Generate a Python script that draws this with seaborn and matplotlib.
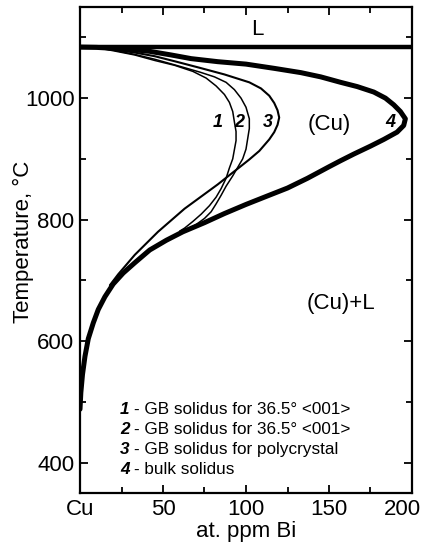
import numpy as np
import pandas as pd
import matplotlib
matplotlib.use("Agg")
import matplotlib.pyplot as plt
import matplotlib.transforms as mtransforms
import seaborn as sns
from matplotlib.ticker import MultipleLocator

# ---- data ----
liquidus_T = 1084

c4_x = [0, 10, 20, 31, 42, 55, 67, 83, 100, 117, 133, 145, 157, 167, 177, 184, 189, 193, 196,
        195, 191, 183, 175, 165, 157, 150, 137, 125, 112, 100, 87, 75, 62, 52, 42, 33, 26, 20,
        15, 11, 8, 5, 3, 1.5, 0.5, 0]
c4_T = [1084, 1083.5, 1082, 1080, 1077, 1071, 1065, 1060, 1056, 1049, 1042, 1035, 1026, 1019, 1010, 1000, 989, 978, 966,
        955, 944, 932, 921, 908, 897, 887, 868, 852, 838, 825, 810, 795, 780, 766, 750, 729, 712, 694,
        673, 652, 630, 604, 575, 545, 515, 488]

c3_x = [0, 10, 20, 33, 45, 58, 72, 87, 102, 109, 114, 117, 119, 120, 119, 117, 114, 108, 102,
        96, 89, 83, 73, 63, 55, 47, 40, 33, 28, 23, 18]
c3_T = [1084, 1083, 1080, 1075, 1069, 1060, 1050, 1039, 1026, 1016, 1004, 992, 980, 968, 956, 944, 932, 913, 899,
        886, 871, 858, 838, 818, 799, 780, 761, 742, 726, 710, 692]

c2_x = [0, 10, 20, 33, 45, 58, 72, 81, 88, 93, 97, 100, 102, 102, 101, 100, 98, 95, 92, 88, 85,
        82, 79, 75, 70, 64]
c2_T = [1084, 1083, 1079, 1072, 1064, 1054, 1043, 1035, 1026, 1014, 1000, 985, 966, 950, 933, 916, 900, 886, 872, 855, 840,
        826, 813, 802, 792, 782]

c1_x = [0, 10, 20, 33, 45, 57, 68, 76, 82, 87, 90, 92, 93, 94, 94, 93, 92, 90, 88, 85, 82, 78,
        73, 68, 63, 60]
c1_T = [1084, 1083, 1078, 1071, 1062, 1054, 1044, 1033, 1020, 1006, 993, 978, 961, 945, 930, 915, 900, 885, 868, 851, 837, 823,
        809, 797, 786, 781]

legend_nums = ["1", "2", "3", "4"]
legend_texts = ["- GB solidus for 36.5° <001>",
                "- GB solidus for 36.5° <001>",
                "- GB solidus for polycrystal",
                "- bulk solidus"]
legend_T = [488, 455, 422, 388]

curve_labels = ["1", "2", "3", "4"]
curve_label_x = [83, 96, 113, 187]

x_ticks = [0, 50, 100, 150, 200]
x_ticklabels = ["Cu", "50", "100", "150", "200"]
y_ticks = [400, 600, 800, 1000]

sns.set_theme(style="ticks")
plt.rcParams['font.family'] = ['Liberation Sans', 'DejaVu Sans']
plt.rcParams['text.color'] = 'black'
plt.rcParams['axes.labelcolor'] = 'black'
plt.rcParams['xtick.color'] = 'black'
plt.rcParams['ytick.color'] = 'black'
plt.rcParams['axes.edgecolor'] = 'black'

fig = plt.figure(figsize=(4.27, 5.5), dpi=100)
ax = fig.add_axes([80/427, 1-493/550, (412-80)/427, (493-7)/550])

curves = [
    (c1_x, c1_T, 1.1),
    (c2_x, c2_T, 1.1),
    (c3_x, c3_T, 1.5),
    (c4_x, c4_T, 3.6),
]
for xs, Ts, lw in curves:
    df = pd.DataFrame({"x": xs, "T": Ts})
    sns.lineplot(data=df, x="x", y="T", sort=False, estimator=None,
                 color="black", lw=lw, ax=ax, solid_joinstyle="round",
                 solid_capstyle="round")

ax.axhline(liquidus_T, color="black", lw=3.2)

ax.set_xlim(0, 200)
ax.set_ylim(350, 1150)
ax.set_xticks(x_ticks)
ax.set_xticklabels(x_ticklabels)
ax.set_yticks(y_ticks)
ax.xaxis.set_minor_locator(MultipleLocator(25))
ax.yaxis.set_minor_locator(MultipleLocator(100))
ax.tick_params(which="both", direction="in", top=True, right=True,
               labeltop=False, labelright=False, width=1.3, labelsize=16, pad=4,
               colors="black")
ax.tick_params(which="major", length=6)
ax.tick_params(which="minor", length=4)
for sp in ax.spines.values():
    sp.set_linewidth(1.6)
    sp.set_visible(True)
    sp.set_color("black")

# shift the last x tick label slightly left so it stays in the picture
for lab in ax.get_xticklabels():
    if lab.get_text() == "200":
        lab.set_transform(lab.get_transform() +
                          mtransforms.ScaledTranslation(-7/72, 0, fig.dpi_scale_trans))

ax.set_xlabel("at. ppm Bi", fontsize=16, labelpad=1, color="black")
ax.set_ylabel("Temperature, °C", fontsize=16, color="black")
ax.yaxis.set_label_coords(-0.14, 0.516)

ax.text(107, 1113, "L", fontsize=16, ha="center", va="center")
ax.text(150, 957, "(Cu)", fontsize=16, ha="center", va="center")
ax.text(157, 662, "(Cu)+L", fontsize=16, ha="center", va="center")
for lab, xx in zip(curve_labels, curve_label_x):
    ax.text(xx, 960, lab, fontsize=13, ha="center", va="center",
            fontweight="bold", fontstyle="italic")

for n, t, yy in zip(legend_nums, legend_texts, legend_T):
    ax.text(24, yy, n, fontsize=12.3, ha="left", va="center",
            fontweight="bold", fontstyle="italic")
    ax.text(32.5, yy, t, fontsize=12.3, ha="left", va="center")

fig.savefig("out.png", dpi=100)
